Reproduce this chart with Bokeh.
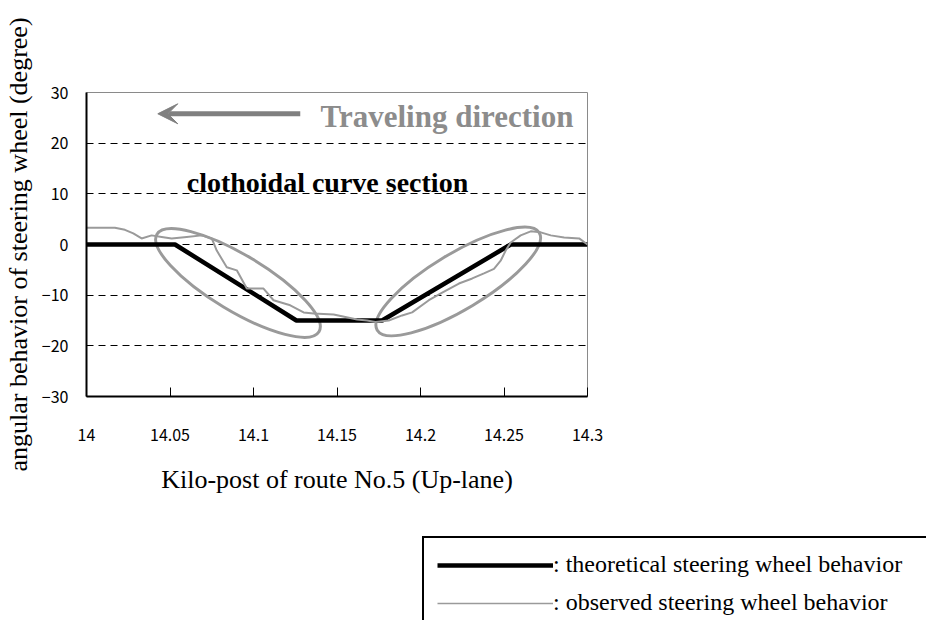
import math
from bokeh.plotting import figure
from bokeh.layouts import column, row
from bokeh.models import (Range1d, FixedTicker, Label, Arrow, VeeHead, Legend, LegendItem, Spacer)
from bokeh.embed import file_html
from bokeh.resources import INLINE

# ---------------- data ----------------
x_ticks = [14.0, 14.05, 14.1, 14.15, 14.2, 14.25, 14.3]
x_tick_labels = ["14", "14.05", "14.1", "14.15", "14.2", "14.25", "14.3"]
y_ticks = [-30, -20, -10, 0, 10, 20, 30]
y_tick_labels = ["\u221230", "\u221220", "\u221210", "0", "10", "20", "30"]

theory_x = [14.0, 14.053, 14.1257, 14.177, 14.254, 14.3]
theory_y = [0, 0, -15, -15, 0, 0]

obs_x = [14.0, 14.017, 14.023, 14.028, 14.033, 14.039, 14.045, 14.051, 14.060, 14.069,
         14.075, 14.078, 14.084, 14.090, 14.096, 14.106, 14.112, 14.122, 14.130, 14.136,
         14.148, 14.155, 14.162, 14.168, 14.173, 14.181, 14.189, 14.195, 14.205, 14.213,
         14.223, 14.231, 14.238, 14.244, 14.248, 14.251, 14.254, 14.260, 14.266, 14.272,
         14.278, 14.286, 14.295, 14.3]
obs_y = [3.3, 3.3, 2.9, 2.2, 1.2, 1.8, 1.5, 1.2, 1.5, 1.8,
         1.2, -1.2, -4.5, -5.1, -8.7, -8.7, -11.0, -12.0, -13.4, -13.6,
         -13.8, -14.3, -14.8, -15.0, -15.3, -15.0, -14.0, -13.4, -11.0, -9.5,
         -7.7, -6.7, -5.7, -4.8, -3.2, -1.2, 0.4, 1.8, 2.6, 2.4,
         1.8, 1.4, 1.2, 0.0]

ellipse_x = [14.0907, 14.2226]
ellipse_y = [-7.6, -7.3]
ellipse_angle_deg = [-31, 31]

arrow_x = [14.128, 14.0427]
arrow_y = [25.8, 25.8]

series_names = [": theoretical steering wheel behavior", ": observed steering wheel behavior"]

SERIF = "Liberation Serif"
TICKFONT = "Noto Sans CJK JP"
GREY_LINE = "#9a9a9a"

# ---------------- main chart ----------------
p = figure(width=914, height=530, output_backend="svg", toolbar_location=None,
           x_range=Range1d(14.0, 14.3), y_range=Range1d(-30, 30),
           min_border_left=81, min_border_right=327, min_border_top=92, min_border_bottom=134)
p.background_fill_color = "white"
p.border_fill_color = "white"
p.outline_line_color = "#8a8a8a"
p.outline_line_width = 1

xa = p.xaxis[0]
xa.ticker = FixedTicker(ticks=x_ticks)
xa.major_label_overrides = {t: l for t, l in zip(x_ticks, x_tick_labels)}
xa.major_tick_in = 9
xa.major_tick_out = 0
xa.minor_tick_line_color = None
xa.axis_line_width = 2
xa.axis_line_color = "black"
xa.major_tick_line_color = "black"
xa.major_tick_line_width = 1
xa.major_label_standoff = 32
xa.major_label_text_font = TICKFONT
xa.major_label_text_font_size = "16px"
xa.major_label_text_color = "black"
xa.axis_label = "Kilo-post of route No.5 (Up-lane)"
xa.axis_label_text_font = SERIF
xa.axis_label_text_font_style = "normal"
xa.axis_label_text_font_size = "26px"
xa.axis_label_text_color = "black"
xa.axis_label_standoff = 21

ya = p.yaxis[0]
ya.ticker = FixedTicker(ticks=y_ticks)
ya.major_label_overrides = {t: l for t, l in zip(y_ticks, y_tick_labels)}
ya.major_tick_in = 0
ya.major_tick_out = 0
ya.minor_tick_line_color = None
ya.axis_line_width = 2
ya.axis_line_color = "black"
ya.major_label_standoff = 18
ya.major_label_text_font = TICKFONT
ya.major_label_text_font_size = "16px"
ya.major_label_text_color = "black"
ya.axis_label = "angular behavior of steering wheel (degree)"
ya.axis_label_text_font = SERIF
ya.axis_label_text_font_style = "normal"
ya.axis_label_text_font_size = "26px"
ya.axis_label_text_color = "black"
ya.axis_label_standoff = 6

p.xgrid.visible = False
p.ygrid.ticker = FixedTicker(ticks=[t for t in y_ticks if abs(t) < 30])
p.ygrid.grid_line_color = "black"
p.ygrid.grid_line_dash = "7 5"
p.ygrid.grid_line_width = 1

p.ellipse(x=ellipse_x, y=ellipse_y, width=189, height=56, width_units="screen", height_units="screen",
          angle=[math.radians(a) for a in ellipse_angle_deg], fill_color=None,
          line_color=GREY_LINE, line_width=3)

p.line(theory_x, theory_y, line_color="black", line_width=4.5)
p.line(obs_x, obs_y, line_color=GREY_LINE, line_width=2)

p.add_layout(Arrow(x_start=arrow_x[0], y_start=arrow_y[0], x_end=arrow_x[1], y_end=arrow_y[1],
                   line_color="#808080", line_width=5,
                   end=VeeHead(size=20, fill_color="#808080", line_color="#808080")))
p.add_layout(Label(x=14.2916, y=25.2, text="Traveling direction", text_align="right",
                   text_baseline="alphabetic", text_font=SERIF, text_font_style="bold",
                   text_font_size="31px", text_color="#8c8c8c"))
p.add_layout(Label(x=14.060, y=12.3, text="clothoidal curve section", text_align="left",
                   text_baseline="alphabetic", text_font=SERIF, text_font_style="bold",
                   text_font_size="28px", text_color="black"))

# ---------------- legend panel ----------------
# the series are re-drawn here outside the visible range only to provide legend samples
lg = figure(width=506, height=90, output_backend="svg", toolbar_location=None,
            x_range=Range1d(0, 1), y_range=Range1d(0, 1),
            min_border_left=0, min_border_right=0, min_border_top=0, min_border_bottom=0)
lg.axis.visible = False
lg.grid.visible = False
lg.outline_line_color = None
lg.background_fill_color = "white"
lg.border_fill_color = "white"
l1 = lg.line(theory_x, theory_y, line_color="black", line_width=4.5)
l2 = lg.line(obs_x, obs_y, line_color=GREY_LINE, line_width=1.5)
legend = Legend(items=[LegendItem(label=series_names[0], renderers=[l1]),
                       LegendItem(label=series_names[1], renderers=[l2])],
                location=(2, -11), orientation="vertical",
                glyph_width=116, glyph_height=24, label_height=24, label_width=390,
                label_standoff=0, spacing=11, padding=13, margin=0,
                label_text_font=SERIF, label_text_font_size="24px", label_text_color="black",
                border_line_color="black", border_line_width=2, border_line_alpha=1,
                background_fill_alpha=1)
lg.add_layout(legend, "center")

layout = column(p, row(Spacer(width=420, height=90), lg))

open("out.html", "w").write(file_html(layout, INLINE))
